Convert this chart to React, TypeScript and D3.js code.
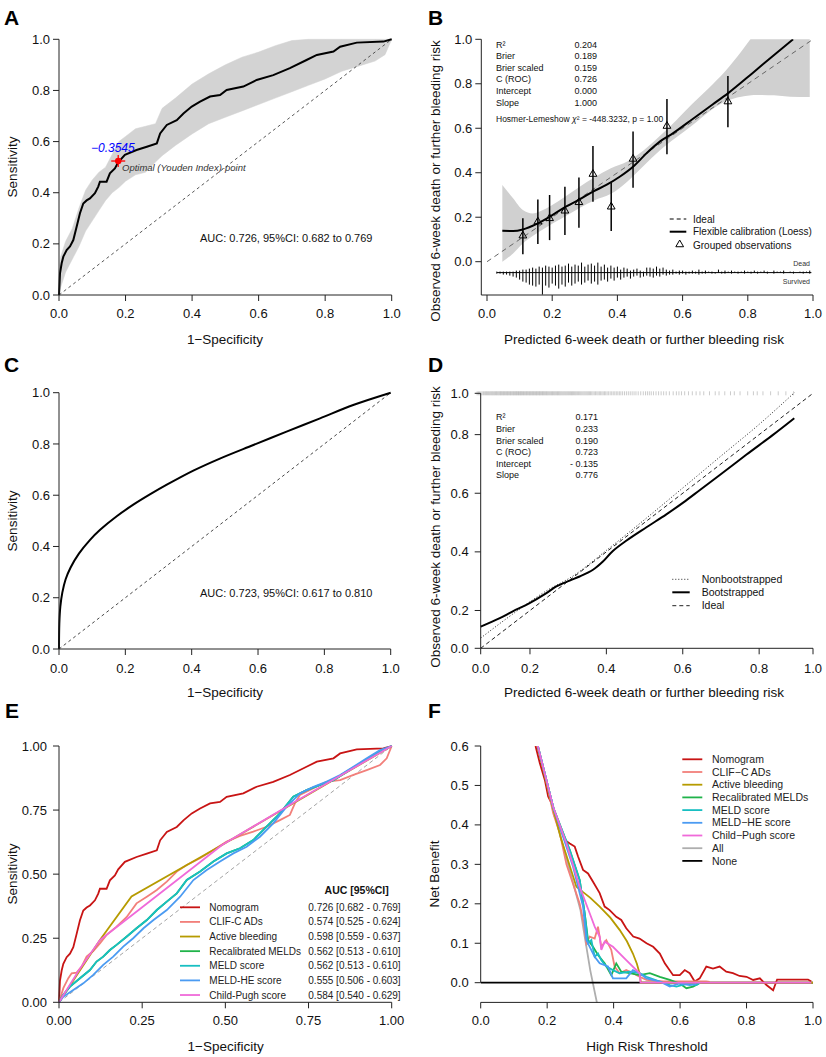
import React from "react";
import * as d3 from "d3";

type P = [number, number];
const FONT = "'Liberation Sans', Arial, Helvetica, sans-serif";
const AX = "#222";

// ---------------- tick data ----------------
const ticks01 = [0, 0.2, 0.4, 0.6, 0.8, 1.0];
const ticks01Labels = ["0.0", "0.2", "0.4", "0.6", "0.8", "1.0"];
const ticksE = [0, 0.25, 0.5, 0.75, 1];
const ticksELabels = ["0.00", "0.25", "0.50", "0.75", "1.00"];
const ticksFy = [0, 0.1, 0.2, 0.3, 0.4, 0.5, 0.6];
const ticksFyLabels = ["0.0", "0.1", "0.2", "0.3", "0.4", "0.5", "0.6"];
const dTicks = [0.071, 0.2, 0.4, 0.6, 0.8, 0.941];
const dTickLabels = ["0.0", "0.2", "0.4", "0.6", "0.8", "1.0"];

// ---------------- Panel A: ROC of nomogram ----------------
const rocNomogram: P[] = [
  [0, 0], [0.003, 0.085], [0.008, 0.124], [0.013, 0.15], [0.023, 0.176], [0.033, 0.19],
  [0.043, 0.215], [0.053, 0.267], [0.063, 0.32], [0.073, 0.358], [0.083, 0.37], [0.093, 0.378],
  [0.108, 0.398], [0.118, 0.424], [0.123, 0.443], [0.143, 0.443], [0.153, 0.476], [0.168, 0.495],
  [0.178, 0.519], [0.198, 0.548], [0.233, 0.567], [0.264, 0.58], [0.294, 0.593], [0.304, 0.632],
  [0.324, 0.665], [0.354, 0.684], [0.374, 0.71], [0.399, 0.737], [0.424, 0.756], [0.454, 0.776],
  [0.484, 0.782], [0.504, 0.802], [0.554, 0.815], [0.594, 0.841], [0.644, 0.86], [0.694, 0.887],
  [0.744, 0.919], [0.775, 0.939], [0.825, 0.952], [0.845, 0.971], [0.895, 0.987], [0.975, 0.991], [1, 1],
];
const aBandX = [0, 0.005, 0.02, 0.04, 0.06, 0.08, 0.1, 0.12, 0.14, 0.16, 0.18, 0.2, 0.23, 0.26, 0.29, 0.31, 0.35, 0.4, 0.45, 0.5, 0.55, 0.6, 0.65, 0.7, 0.75, 0.8, 0.85, 0.9, 0.95, 0.98, 1.0];
const aBandHi = [0.09, 0.15, 0.21, 0.26, 0.34, 0.41, 0.45, 0.48, 0.5, 0.55, 0.6, 0.62, 0.65, 0.66, 0.67, 0.73, 0.77, 0.825, 0.865, 0.9, 0.93, 0.95, 0.975, 0.995, 1, 1, 1, 1, 1, 1, 1];
const aBandLo = [0, 0.03, 0.09, 0.14, 0.19, 0.25, 0.29, 0.33, 0.37, 0.4, 0.42, 0.445, 0.47, 0.48, 0.52, 0.545, 0.585, 0.63, 0.67, 0.695, 0.72, 0.745, 0.77, 0.795, 0.82, 0.845, 0.875, 0.895, 0.915, 0.94, 1.0];
const aOptimal: P = [0.178, 0.524];

// ---------------- Panel B: calibration ----------------
const bLoess: P[] = [
  [0.047, 0.139], [0.08, 0.138], [0.11, 0.145], [0.151, 0.169], [0.192, 0.202], [0.233, 0.24],
  [0.284, 0.28], [0.325, 0.315], [0.366, 0.345], [0.407, 0.382], [0.448, 0.427], [0.489, 0.487],
  [0.53, 0.54], [0.57, 0.577], [0.632, 0.643], [0.693, 0.708], [0.739, 0.757], [0.816, 0.85],
  [0.877, 0.925], [0.939, 1.0],
];
const bBandX = [0.047, 0.08, 0.11, 0.14, 0.18, 0.23, 0.28, 0.33, 0.38, 0.43, 0.48, 0.53, 0.58, 0.63, 0.68, 0.73, 0.78, 0.83, 0.88, 0.93, 0.99];
const bBandHi = [0.345, 0.285, 0.232, 0.217, 0.238, 0.283, 0.333, 0.38, 0.42, 0.45, 0.5, 0.565, 0.635, 0.71, 0.78, 0.855, 0.945, 1.04, 1.1, 1.15, 1.2];
const bBandLo = [0.0, 0.037, 0.082, 0.115, 0.153, 0.195, 0.238, 0.276, 0.305, 0.36, 0.43, 0.5, 0.558, 0.613, 0.673, 0.72, 0.742, 0.75, 0.748, 0.742, 0.74];
const bGroupX = [0.11, 0.156, 0.192, 0.239, 0.282, 0.325, 0.381, 0.448, 0.552, 0.739];
const bGroupY = [0.117, 0.18, 0.195, 0.229, 0.267, 0.394, 0.247, 0.462, 0.61, 0.72];
const bGroupLo = [0.034, 0.08, 0.097, 0.12, 0.153, 0.27, 0.138, 0.333, 0.483, 0.604];
const bGroupHi = [0.195, 0.28, 0.3, 0.337, 0.379, 0.52, 0.355, 0.585, 0.732, 0.835];
const bRugX = [
  0.03, 0.04, 0.05, 0.06, 0.07, 0.08, 0.09, 0.10, 0.11, 0.12,
  0.13, 0.14, 0.15, 0.16, 0.17, 0.18, 0.19, 0.20, 0.21, 0.22,
  0.23, 0.24, 0.25, 0.26, 0.27, 0.28, 0.29, 0.30, 0.31, 0.32,
  0.33, 0.34, 0.35, 0.36, 0.37, 0.38, 0.39, 0.40, 0.41, 0.42,
  0.43, 0.44, 0.45, 0.46, 0.47, 0.48, 0.49, 0.50, 0.51, 0.52,
  0.53, 0.54, 0.55, 0.56, 0.57, 0.58, 0.59, 0.60, 0.61, 0.62,
  0.63, 0.64, 0.65, 0.66, 0.67, 0.68, 0.69, 0.70, 0.71, 0.72,
  0.73, 0.74, 0.75, 0.76, 0.77, 0.78, 0.79, 0.80, 0.81, 0.82,
  0.83, 0.84, 0.85, 0.86, 0.87, 0.88, 0.89, 0.90, 0.91, 0.92,
  0.93, 0.94, 0.95, 0.96, 0.97, 0.98, 0.99,
];
const bRugDead = [
  1, 1, 1, 1, 1, 1, 2, 2, 3, 3,
  4, 5, 4, 6, 5, 7, 6, 5, 7, 8,
  6, 7, 9, 6, 8, 7, 10, 6, 8, 9,
  7, 10, 6, 8, 5, 7, 5, 6, 3, 5,
  4, 2, 3, 4, 2, 1, 5, 5, 4, 6,
  4, 5, 3, 2, 3, 1, 2, 2, 1, 1,
  2, 1, 3, 1, 2, 1, 1, 0, 3, 1,
  2, 1, 2, 1, 1, 1, 2, 1, 1, 2,
  1, 1, 2, 1, 0, 2, 1, 1, 2, 0,
  1, 1, 0, 1, 1, 1, 2,
];
const bRugSurvived = [
  1, 1, 2, 2, 3, 4, 5, 7, 9, 10,
  12, 13, 14, 12, 22, 13, 15, 11, 13, 16,
  12, 14, 10, 13, 11, 9, 12, 10, 8, 11,
  9, 12, 8, 7, 9, 6, 8, 5, 7, 5,
  4, 6, 4, 3, 5, 4, 3, 4, 5, 3,
  4, 2, 3, 2, 2, 1, 2, 1, 2, 1,
  1, 1, 2, 1, 1, 0, 1, 1, 0, 1,
  1, 0, 1, 0, 1, 0, 1, 0, 1, 0,
  1, 0, 0, 1, 0, 1, 0, 0, 1, 0,
  0, 1, 0, 0, 1, 0, 1,
];
const bStatsNames = ["R²", "Brier", "Brier scaled", "C (ROC)", "Intercept", "Slope"];
const bStatsValues = ["0.204", "0.189", "0.159", "0.726", "0.000", "1.000"];

// ---------------- Panel C: smooth ROC ----------------
const cRoc: P[] = [
  [0, 0], [0.001, 0.1], [0.004, 0.165], [0.01, 0.22], [0.02, 0.272], [0.035, 0.318],
  [0.06, 0.372], [0.093, 0.425], [0.124, 0.465], [0.174, 0.518], [0.224, 0.563], [0.274, 0.603],
  [0.325, 0.641], [0.405, 0.696], [0.485, 0.743], [0.586, 0.796], [0.686, 0.848], [0.787, 0.9],
  [0.887, 0.952], [1, 1],
];

// ---------------- Panel D: bootstrap calibration ----------------
const dBoot: P[] = [
  [0.071, 0.145], [0.121, 0.174], [0.155, 0.197], [0.199, 0.225], [0.243, 0.259], [0.269, 0.282],
  [0.304, 0.302], [0.33, 0.316], [0.365, 0.339], [0.391, 0.367], [0.417, 0.403], [0.452, 0.438],
  [0.505, 0.484], [0.557, 0.528], [0.601, 0.568], [0.645, 0.611], [0.697, 0.662], [0.767, 0.732],
  [0.837, 0.8], [0.892, 0.856],
];
const dNonBoot: P[] = [
  [0.071, 0.106], [0.155, 0.188], [0.243, 0.267], [0.313, 0.318], [0.4, 0.405], [0.5, 0.51],
  [0.6, 0.618], [0.7, 0.727], [0.8, 0.835], [0.893, 0.944],
];
const dIdeal: P[] = [[0.071, 0.071], [0.941, 0.941]];
const dRugBins = [0.07, 0.09, 0.11, 0.13, 0.15, 0.17, 0.19, 0.21, 0.23, 0.25, 0.27, 0.29, 0.31, 0.33, 0.35, 0.37, 0.39, 0.41, 0.43, 0.45, 0.47, 0.49, 0.51, 0.53, 0.55, 0.57, 0.59, 0.61, 0.63, 0.65, 0.67, 0.69, 0.71, 0.73, 0.75, 0.77, 0.79, 0.81, 0.83, 0.85, 0.87, 0.89];
const dRugCounts = [6, 8, 9, 10, 10, 11, 10, 10, 10, 9, 9, 8, 8, 7, 7, 6, 6, 5, 5, 4, 4, 3, 4, 3, 3, 2, 3, 2, 2, 2, 1, 2, 1, 2, 1, 1, 2, 1, 1, 1, 1, 1];
const dStatsNames = ["R²", "Brier", "Brier scaled", "C (ROC)", "Intercept", "Slope"];
const dStatsValues = ["0.171", "0.233", "0.190", "0.723", "- 0.135", "0.776"];

// ---------------- Panel E: ROC comparison ----------------
const eNames = ["Nomogram", "CLIF-C ADs", "Active bleeding", "Recalibrated MELDs", "MELD score", "MELD-HE score", "Child-Pugh score"];
const eAuc = ["0.726 [0.682 - 0.769]", "0.574 [0.525 - 0.624]", "0.598 [0.559 - 0.637]", "0.562 [0.513 - 0.610]", "0.562 [0.513 - 0.610]", "0.555 [0.506 - 0.603]", "0.584 [0.540 - 0.629]"];
const seriesColors = ["#C81414", "#F27F7A", "#B69B00", "#20B34A", "#18BFC2", "#4B9BF2", "#F06AD9"];
const eClif: P[] = [
  [0, 0], [0.013, 0.055], [0.028, 0.094], [0.038, 0.113], [0.053, 0.116], [0.068, 0.139], [0.083, 0.178],
  [0.103, 0.2], [0.123, 0.23], [0.143, 0.263], [0.173, 0.295], [0.203, 0.332], [0.233, 0.386],
  [0.264, 0.412], [0.294, 0.438], [0.324, 0.471], [0.354, 0.51], [0.384, 0.536], [0.424, 0.562],
  [0.464, 0.594], [0.504, 0.627], [0.544, 0.649], [0.584, 0.666], [0.624, 0.685], [0.664, 0.711],
  [0.694, 0.731], [0.709, 0.776], [0.724, 0.809], [0.765, 0.835], [0.805, 0.861], [0.845, 0.867],
  [0.885, 0.887], [0.925, 0.906], [0.965, 0.926], [0.985, 0.952], [1, 1],
];
const eActive: P[] = [[0, 0], [0.123, 0.243], [0.218, 0.413], [0.49, 0.614], [1, 1]];
const eMeld: P[] = [
  [0, 0], [0.013, 0.029], [0.033, 0.061], [0.063, 0.094], [0.093, 0.126], [0.113, 0.159], [0.133, 0.178],
  [0.153, 0.204], [0.173, 0.224], [0.203, 0.256], [0.233, 0.289], [0.264, 0.321], [0.294, 0.36],
  [0.324, 0.393], [0.354, 0.425], [0.384, 0.477], [0.424, 0.51], [0.464, 0.549], [0.504, 0.581],
  [0.544, 0.601], [0.584, 0.633], [0.624, 0.685], [0.664, 0.737], [0.704, 0.802], [0.744, 0.828],
  [0.785, 0.848], [0.825, 0.867], [0.865, 0.9], [0.905, 0.932], [0.945, 0.965], [0.975, 0.984], [1, 1],
];
const eMeldRecal: P[] = eMeld; // identical AUC and curve (0.562)
const eMeldHe: P[] = [
  [0, 0], [0.013, 0.022], [0.043, 0.048], [0.073, 0.074], [0.103, 0.107], [0.133, 0.146], [0.163, 0.178],
  [0.193, 0.217], [0.223, 0.25], [0.254, 0.289], [0.284, 0.321], [0.324, 0.36], [0.364, 0.412],
  [0.404, 0.477], [0.444, 0.516], [0.484, 0.549], [0.524, 0.581], [0.564, 0.607], [0.604, 0.646],
  [0.644, 0.698], [0.684, 0.763], [0.724, 0.815], [0.765, 0.841], [0.805, 0.861], [0.845, 0.887],
  [0.885, 0.919], [0.925, 0.952], [0.965, 0.984], [1, 1],
];
const eChild: P[] = [[0, 0], [0.06, 0.125], [0.123, 0.243], [0.25, 0.371], [0.49, 0.614], [0.72, 0.79], [1, 1]];

// ---------------- Panel F: decision curves ----------------
const fNames = ["Nomogram", "CLIF−C ADs", "Active bleeding", "Recalibrated MELDs", "MELD score", "MELD−HE score", "Child−Pugh score", "All", "None"];
const fColors = [...seriesColors, "#AEAEAE", "#000000"];
const fNomogram: P[] = [
  [0.165, 0.6], [0.178, 0.556], [0.193, 0.514], [0.203, 0.472], [0.213, 0.455], [0.223, 0.421],
  [0.238, 0.396], [0.253, 0.362], [0.268, 0.353], [0.283, 0.345], [0.293, 0.32], [0.308, 0.286],
  [0.323, 0.277], [0.338, 0.256], [0.358, 0.227], [0.373, 0.193], [0.388, 0.184], [0.408, 0.167],
  [0.423, 0.159], [0.438, 0.138], [0.459, 0.117], [0.478, 0.112], [0.499, 0.1], [0.519, 0.091],
  [0.539, 0.074], [0.554, 0.049], [0.579, 0.019], [0.599, 0.019], [0.614, 0.032], [0.629, 0.024],
  [0.644, 0.003], [0.659, 0.011], [0.679, 0.041], [0.699, 0.036], [0.719, 0.041], [0.739, 0.028],
  [0.759, 0.024], [0.779, 0.017], [0.8, 0.015], [0.82, 0.007], [0.84, 0.011], [0.86, -0.006],
  [0.88, -0.019], [0.892, 0.008], [0.92, 0.008], [0.96, 0.008], [0.985, 0.008], [0.995, 0.003],
];
const fClif: P[] = [
  [0.172, 0.6], [0.195, 0.52], [0.218, 0.43], [0.238, 0.379], [0.258, 0.3], [0.298, 0.2], [0.31, 0.15],
  [0.318, 0.1], [0.328, 0.117], [0.343, 0.112], [0.353, 0.142], [0.363, 0.091], [0.378, 0.108],
  [0.393, 0.083], [0.403, 0.041], [0.418, 0.024], [0.438, 0.032], [0.458, 0.024], [0.478, 0.015],
  [0.499, 0.007], [0.549, 0.003], [0.599, 0.003], [0.679, 0.003], [0.689, 0.002],
];
const fActive: P[] = [
  [0.165, 0.62], [0.2, 0.5], [0.24, 0.37], [0.288, 0.243], [0.33, 0.215], [0.358, 0.193], [0.39, 0.165],
  [0.418, 0.134], [0.44, 0.105], [0.458, 0.074], [0.47, 0.048], [0.478, 0.024], [0.482, 0], [1, 0],
];
const fRecal: P[] = [
  [0.172, 0.6], [0.22, 0.44], [0.268, 0.336], [0.298, 0.26], [0.313, 0.176], [0.323, 0.108],
  [0.338, 0.091], [0.353, 0.07], [0.373, 0.049], [0.393, 0.019], [0.408, 0.049], [0.423, 0.028],
  [0.448, 0.024], [0.478, 0.019], [0.509, 0.024], [0.539, 0.015], [0.569, 0.007], [0.599, -0.002],
  [0.619, -0.014], [0.639, -0.01], [0.657, -0.002],
];
const fMeld: P[] = [
  [0.172, 0.6], [0.22, 0.44], [0.268, 0.336], [0.298, 0.26], [0.313, 0.176], [0.323, 0.1],
  [0.333, 0.108], [0.343, 0.066], [0.353, 0.074], [0.363, 0.057], [0.378, 0.041], [0.398, 0.032],
  [0.418, 0.024], [0.448, 0.028], [0.478, 0.024], [0.499, 0.015], [0.539, 0.003], [0.569, -0.006],
  [0.589, -0.01], [0.619, -0.003], [0.649, -0.006], [0.659, 0],
];
const fMeldHe: P[] = [
  [0.172, 0.6], [0.22, 0.44], [0.278, 0.294], [0.308, 0.193], [0.318, 0.108], [0.328, 0.091],
  [0.343, 0.066], [0.358, 0.049], [0.383, 0.041], [0.398, 0.011], [0.438, 0.011], [0.458, 0.032],
  [0.478, 0.024], [0.499, 0.011], [0.539, 0.003], [0.569, -0.01], [0.599, -0.002], [0.629, -0.006],
  [0.649, -0.003],
];
const fChild: P[] = [
  [0.172, 0.6], [0.218, 0.446], [0.258, 0.353], [0.298, 0.243], [0.328, 0.176], [0.343, 0.142],
  [0.358, 0.117], [0.363, 0.083], [0.373, 0.104], [0.398, 0.091], [0.438, 0.057], [0.478, 0.024],
  [0.481, 0], [0.995, 0],
];
const fAll: P[] = [[0.165, 0.62], [0.2, 0.5], [0.25, 0.34], [0.3, 0.185], [0.313, 0.117], [0.33, 0.03], [0.352, -0.06]];
const fNone: P[] = [[0, 0], [1, 0]];

// ---------------- helpers ----------------
type Sc = d3.ScaleLinear<number, number>;

function AxisLeft(props: { x: number; scale: Sc; ticks: number[]; labels: string[]; gap?: number; from?: number; to?: number }) {
  const { x, scale, ticks, labels } = props;
  const gap = props.gap ?? 9;
  const a = props.from ?? scale(ticks[0]);
  const b = props.to ?? scale(ticks[ticks.length - 1]);
  return (
    <g>
      <line x1={x} x2={x} y1={a} y2={b} stroke={AX} strokeWidth={1} />
      {ticks.map((t, i) => (
        <g key={i}>
          <line x1={x - 6} x2={x} y1={scale(t)} y2={scale(t)} stroke={AX} strokeWidth={1} />
          <text x={x - gap} y={scale(t)} dy="0.35em" textAnchor="end" fontSize={13} fill="#111">
            {labels[i]}
          </text>
        </g>
      ))}
    </g>
  );
}

function AxisBottom(props: { y: number; scale: Sc; ticks: number[]; labels: string[]; from?: number; to?: number; labelOffset?: number }) {
  const { y, scale, ticks, labels } = props;
  const off = props.labelOffset ?? 18;
  const a = props.from ?? scale(ticks[0]);
  const b = props.to ?? scale(ticks[ticks.length - 1]);
  return (
    <g>
      <line x1={a} x2={b} y1={y} y2={y} stroke={AX} strokeWidth={1} />
      {ticks.map((t, i) => (
        <g key={i}>
          <line x1={scale(t)} x2={scale(t)} y1={y} y2={y + 6} stroke={AX} strokeWidth={1} />
          <text x={scale(t)} y={y + off} dy="0.35em" textAnchor="middle" fontSize={13} fill="#111">
            {labels[i]}
          </text>
        </g>
      ))}
    </g>
  );
}

function YTitle({ x, y, text }: { x: number; y: number; text: string }) {
  return (
    <text transform={`translate(${x},${y}) rotate(-90)`} textAnchor="middle" dy="0.35em" fontSize={13.5} fill="#111">
      {text}
    </text>
  );
}
function XTitle({ x, y, text }: { x: number; y: number; text: string }) {
  return (
    <text x={x} y={y} textAnchor="middle" dy="0.35em" fontSize={13.5} fill="#111">
      {text}
    </text>
  );
}
function PanelLetter({ x, y, t }: { x: number; y: number; t: string }) {
  return (
    <text x={x} y={y} fontSize={21} fontWeight="bold" fill="#000">
      {t}
    </text>
  );
}

const mkLine = (xs: Sc, ys: Sc, curve: d3.CurveFactory = d3.curveLinear) =>
  d3.line<P>().x((d) => xs(d[0])).y((d) => ys(d[1])).curve(curve);

export default function App() {
  // ---- scales ----
  const xA = d3.scaleLinear().domain([0, 1]).range([59, 391.7]);
  const yA = d3.scaleLinear().domain([0, 1]).range([295, 39.3]);
  const xB = d3.scaleLinear().domain([0, 1]).range([487, 813]);
  const yB = d3.scaleLinear().domain([0, 1]).range([261.7, 39.3]);
  const xC = d3.scaleLinear().domain([0, 1]).range([59, 390.7]);
  const yC = d3.scaleLinear().domain([0, 1]).range([649, 392.7]);
  const xD = d3.scaleLinear().domain([0.071, 0.941]).range([480.7, 813]);
  const yD = d3.scaleLinear().domain([0.071, 0.941]).range([648.3, 393.3]);
  const xE = d3.scaleLinear().domain([0, 1]).range([59, 391.7]);
  const yE = d3.scaleLinear().domain([0, 1]).range([1002.3, 746]);
  const xF = d3.scaleLinear().domain([0, 1]).range([480.7, 813]);
  const yF = d3.scaleLinear().domain([0, 0.6]).range([982.7, 746]);
  const spike = d3.scaleLinear().domain([0, 22]).range([0, 22]);

  // ---- A ----
  const aBand = d3
    .area<number>()
    .x((_, i) => xA(aBandX[i]))
    .y0((_, i) => yA(aBandLo[i]))
    .y1((_, i) => yA(aBandHi[i]))
    .curve(d3.curveLinear)(aBandX);
  const aLine = mkLine(xA, yA)(rocNomogram);
  const aDiag = mkLine(xA, yA)([[0, 0], [1, 1]]);
  const ox = xA(aOptimal[0]);
  const oy = yA(aOptimal[1]);

  // ---- B ----
  const bBand = d3
    .area<number>()
    .x((_, i) => xB(bBandX[i]))
    .y0((_, i) => yB(bBandLo[i]))
    .y1((_, i) => yB(bBandHi[i]))
    .curve(d3.curveMonotoneX)(bBandX);
  const bLoessPath = mkLine(xB, yB, d3.curveMonotoneX)(bLoess);
  const bIdeal = mkLine(xB, yB)([[0, 0], [1, 1]]);
  const tri = d3.symbol().type(d3.symbolTriangle).size(26)();
  const rugY = yB(-0.049);

  // ---- C ----
  const cPath = mkLine(xC, yC, d3.curveCatmullRom.alpha(0.5))(cRoc);
  const cDiag = mkLine(xC, yC)([[0, 0], [1, 1]]);

  // ---- D ----
  const dBootPath = mkLine(xD, yD, d3.curveCatmullRom.alpha(0.5))(dBoot);
  const dNonPath = mkLine(xD, yD, d3.curveMonotoneX)(dNonBoot);
  const dIdealPath = mkLine(xD, yD)(dIdeal);
  const dRugTicks: number[] = [];
  dRugBins.forEach((b, i) => {
    const c = dRugCounts[i];
    for (let j = 0; j < c; j++) dRugTicks.push(b - 0.01 + ((j + 0.5) * 0.02) / c);
  });

  // ---- E ----
  const eSeries: P[][] = [rocNomogram, eClif, eActive, eMeldRecal, eMeld, eMeldHe, eChild];

  // ---- F ----
  const fSeriesData = [fNomogram, fClif, fActive, fRecal, fMeld, fMeldHe, fChild, fAll, fNone];
  const fOrder = [7, 8, 0, 1, 2, 3, 4, 5, 6];
  const fLine = mkLine(xF, yF);

  return (
    <svg
      width={826}
      height={1057}
      style={{ position: "absolute", left: 0, top: 0, fontFamily: FONT, background: "#fff" }}
    >
      <defs>
        <clipPath id="clipB">
          <rect x={481.3} y={yB(1)} width={813 - 481.3} height={295 - yB(1)} />
        </clipPath>
        <clipPath id="clipF">
          <rect x={480.7} y={yF(0.6)} width={813 - 480.7} height={1002.4 - yF(0.6)} />
        </clipPath>
      </defs>
      <rect x={0} y={0} width={826} height={1057} fill="#fff" />

      {/* ================= Panel A ================= */}
      <PanelLetter x={4} y={25} t="A" />
      <path d={aBand ?? ""} fill="#d3d3d3" stroke="#d3d3d3" strokeWidth={0.5} />
      <path d={aDiag ?? ""} stroke="#444" strokeWidth={0.9} strokeDasharray="3,3" fill="none" />
      <path d={aLine ?? ""} stroke="#000" strokeWidth={2} fill="none" strokeLinejoin="miter" />
      <line x1={ox - 7} x2={ox + 7} y1={oy} y2={oy} stroke="#f00" strokeWidth={1.3} />
      <line x1={ox} x2={ox} y1={oy - 6} y2={oy + 6} stroke="#f00" strokeWidth={1.3} />
      <circle cx={ox} cy={oy} r={3.2} fill="#f00" />
      <text x={91} y={151.5} fontSize={12} fontStyle="italic" fill="#0000ff">−0.3545</text>
      <text x={122} y={171} fontSize={9.5} fontStyle="italic" fill="#333">Optimal (Youden Index)-point</text>
      <text x={200} y={238} dy="0.35em" fontSize={11} fill="#111">AUC: 0.726, 95%CI: 0.682 to 0.769</text>
      <AxisLeft x={59} scale={yA} ticks={ticks01} labels={ticks01Labels} gap={9} />
      <AxisBottom y={295} scale={xA} ticks={ticks01} labels={ticks01Labels} />
      <YTitle x={12} y={167} text="Sensitivity" />
      <XTitle x={225} y={339} text="1−Specificity" />

      {/* ================= Panel B ================= */}
      <PanelLetter x={428} y={25} t="B" />
      <g clipPath="url(#clipB)">
        <path d={bBand ?? ""} fill="#d0d0d0" stroke="none" />
        <path d={bIdeal ?? ""} stroke="#666" strokeWidth={1} strokeDasharray="5,4" fill="none" />
        <path d={bLoessPath ?? ""} stroke="#000" strokeWidth={2} fill="none" />
      </g>
      {bGroupX.map((gx, i) => (
        <g key={i}>
          <line x1={xB(gx)} x2={xB(gx)} y1={yB(bGroupLo[i])} y2={yB(bGroupHi[i])} stroke="#000" strokeWidth={1.5} />
          <path d={tri ?? ""} transform={`translate(${xB(gx)},${yB(bGroupY[i])})`} fill="none" stroke="#000" strokeWidth={1} />
        </g>
      ))}
      {/* spike histogram */}
      <line x1={xB(0.03)} x2={xB(0.995)} y1={rugY} y2={rugY} stroke="#000" strokeWidth={1} />
      {bRugX.map((rx, i) => (
        <g key={i}>
          {bRugDead[i] > 0 && (
            <line x1={xB(rx)} x2={xB(rx)} y1={rugY} y2={rugY - spike(bRugDead[i])} stroke="#000" strokeWidth={1} />
          )}
          {bRugSurvived[i] > 0 && (
            <line x1={xB(rx)} x2={xB(rx)} y1={rugY} y2={rugY + spike(bRugSurvived[i])} stroke="#000" strokeWidth={1} />
          )}
        </g>
      ))}
      <text x={810} y={264} dy="0.35em" textAnchor="end" fontSize={7} fill="#333">Dead</text>
      <text x={810} y={281.5} dy="0.35em" textAnchor="end" fontSize={7} fill="#333">Survived</text>
      {bStatsNames.map((n, i) => (
        <g key={i}>
          <text x={496} y={44.5 + i * 11.6} dy="0.35em" fontSize={9} fill="#111">{n}</text>
          <text x={597} y={44.5 + i * 11.6} dy="0.35em" textAnchor="end" fontSize={9} fill="#111">{bStatsValues[i]}</text>
        </g>
      ))}
      <text x={496} y={119} dy="0.35em" fontSize={8.5} fill="#111">
        Hosmer-Lemeshow <tspan fontStyle="italic">χ</tspan>² = -448.3232, p = 1.00
      </text>
      {/* legend B */}
      <line x1={669.7} x2={686.3} y1={219} y2={219} stroke="#000" strokeWidth={1} strokeDasharray="4,3" />
      <text x={693} y={219} dy="0.35em" fontSize={10} fill="#111">Ideal</text>
      <line x1={669.7} x2={686.3} y1={231.7} y2={231.7} stroke="#000" strokeWidth={2} />
      <text x={693} y={231.7} dy="0.35em" fontSize={10} fill="#111">Flexible calibration (Loess)</text>
      <path d={tri ?? ""} transform="translate(679.7,244.5)" fill="none" stroke="#000" strokeWidth={1} />
      <text x={693} y={245} dy="0.35em" fontSize={10} fill="#111">Grouped observations</text>
      <AxisLeft x={481.3} scale={yB} ticks={ticks01} labels={ticks01Labels} gap={9} from={yB(1)} to={295} />
      <AxisBottom y={295} scale={xB} ticks={ticks01} labels={ticks01Labels} from={481.3} to={813} />
      <YTitle x={435} y={181} text="Observed 6-week death or further bleeding risk" />
      <XTitle x={644} y={339} text="Predicted 6-week death or further bleeding risk" />

      {/* ================= Panel C ================= */}
      <PanelLetter x={4} y={372} t="C" />
      <path d={cDiag ?? ""} stroke="#333" strokeWidth={0.9} strokeDasharray="3,3" fill="none" />
      <path d={cPath ?? ""} stroke="#000" strokeWidth={2} fill="none" />
      <text x={200} y={593} dy="0.35em" fontSize={11} fill="#111">AUC: 0.723, 95%CI: 0.617 to 0.810</text>
      <AxisLeft x={59} scale={yC} ticks={ticks01} labels={ticks01Labels} gap={9} />
      <AxisBottom y={649} scale={xC} ticks={ticks01} labels={ticks01Labels} labelOffset={19} />
      <YTitle x={12} y={521} text="Sensitivity" />
      <XTitle x={225} y={692.7} text="1−Specificity" />

      {/* ================= Panel D ================= */}
      <PanelLetter x={428} y={372} t="D" />
      {dRugTicks.map((t, i) => (
        <line key={i} x1={xD(t)} x2={xD(t)} y1={yD(0.941) - 2} y2={yD(0.941) + 2} stroke="#aaa" strokeWidth={0.6} />
      ))}
      <path d={dIdealPath ?? ""} stroke="#222" strokeWidth={1} strokeDasharray="4,3" fill="none" />
      <path d={dNonPath ?? ""} stroke="#222" strokeWidth={1} strokeDasharray="1,2" fill="none" />
      <path d={dBootPath ?? ""} stroke="#000" strokeWidth={2} fill="none" />
      {dStatsNames.map((n, i) => (
        <g key={i}>
          <text x={496} y={417.3 + i * 11.6} dy="0.35em" fontSize={9} fill="#111">{n}</text>
          <text x={598} y={417.3 + i * 11.6} dy="0.35em" textAnchor="end" fontSize={9} fill="#111">{dStatsValues[i]}</text>
        </g>
      ))}
      <line x1={672.3} x2={689.7} y1={579.3} y2={579.3} stroke="#222" strokeWidth={1} strokeDasharray="1,2" />
      <text x={701.7} y={579.3} dy="0.35em" fontSize={10.5} fill="#111">Nonbootstrapped</text>
      <line x1={672.3} x2={689.7} y1={592.3} y2={592.3} stroke="#000" strokeWidth={2} />
      <text x={701.7} y={592.3} dy="0.35em" fontSize={10.5} fill="#111">Bootstrapped</text>
      <line x1={672.3} x2={689.7} y1={605.7} y2={605.7} stroke="#222" strokeWidth={1} strokeDasharray="4,3" />
      <text x={701.7} y={605.7} dy="0.35em" fontSize={10.5} fill="#111">Ideal</text>
      <AxisLeft x={480.7} scale={yD} ticks={dTicks} labels={dTickLabels} gap={12} />
      <AxisBottom y={648.3} scale={xD} ticks={dTicks} labels={dTickLabels} labelOffset={20} />
      <YTitle x={435} y={527} text="Observed 6-week death or further bleeding risk" />
      <XTitle x={644} y={692.7} text="Predicted 6-week death or further bleeding risk" />

      {/* ================= Panel E ================= */}
      <PanelLetter x={5} y={718} t="E" />
      <path d={mkLine(xE, yE)([[0, 0], [1, 1]]) ?? ""} stroke="#999" strokeWidth={0.9} strokeDasharray="4,3" fill="none" />
      {eSeries.map((s, i) => (
        <path key={i} d={mkLine(xE, yE)(s) ?? ""} stroke={seriesColors[i]} strokeWidth={1.8} fill="none" />
      ))}
      <text x={356.7} y={890.7} dy="0.35em" textAnchor="middle" fontSize={10.5} fontWeight="bold" fill="#111">AUC [95%CI]</text>
      {eNames.map((n, i) => {
        const ry = 907.3 + i * 14.62;
        return (
          <g key={i}>
            <line x1={180} x2={200} y1={ry} y2={ry} stroke={seriesColors[i]} strokeWidth={1.8} />
            <text x={209.3} y={ry} dy="0.35em" fontSize={10} fill="#222">{n}</text>
            <text x={308.3} y={ry} dy="0.35em" fontSize={10} fill="#222">{eAuc[i]}</text>
          </g>
        );
      })}
      <AxisLeft x={59} scale={yE} ticks={ticksE} labels={ticksELabels} gap={12} />
      <AxisBottom y={1002.3} scale={xE} ticks={ticksE} labels={ticksELabels} />
      <YTitle x={12} y={874} text="Sensitivity" />
      <XTitle x={225.7} y={1046.7} text="1−Specificity" />

      {/* ================= Panel F ================= */}
      <PanelLetter x={428} y={718} t="F" />
      <g clipPath="url(#clipF)">
        {fOrder.map((k) => (
          <path key={k} d={fLine(fSeriesData[k]) ?? ""} stroke={fColors[k]} strokeWidth={1.8} fill="none" />
        ))}
      </g>
      {fNames.map((n, i) => {
        const ry = 759.3 + i * 12.7;
        return (
          <g key={i}>
            <line x1={682.3} x2={702.3} y1={ry} y2={ry} stroke={fColors[i]} strokeWidth={1.8} />
            <text x={712} y={ry} dy="0.35em" fontSize={10.5} fill="#222">{n}</text>
          </g>
        );
      })}
      <AxisLeft x={480.7} scale={yF} ticks={ticksFy} labels={ticksFyLabels} gap={12} />
      <AxisBottom y={1002.4} scale={xF} ticks={ticks01} labels={ticks01Labels} />
      <YTitle x={434.7} y={874} text="Net Benefit" />
      <XTitle x={647} y={1046.7} text="High Risk Threshold" />
    </svg>
  );
}
